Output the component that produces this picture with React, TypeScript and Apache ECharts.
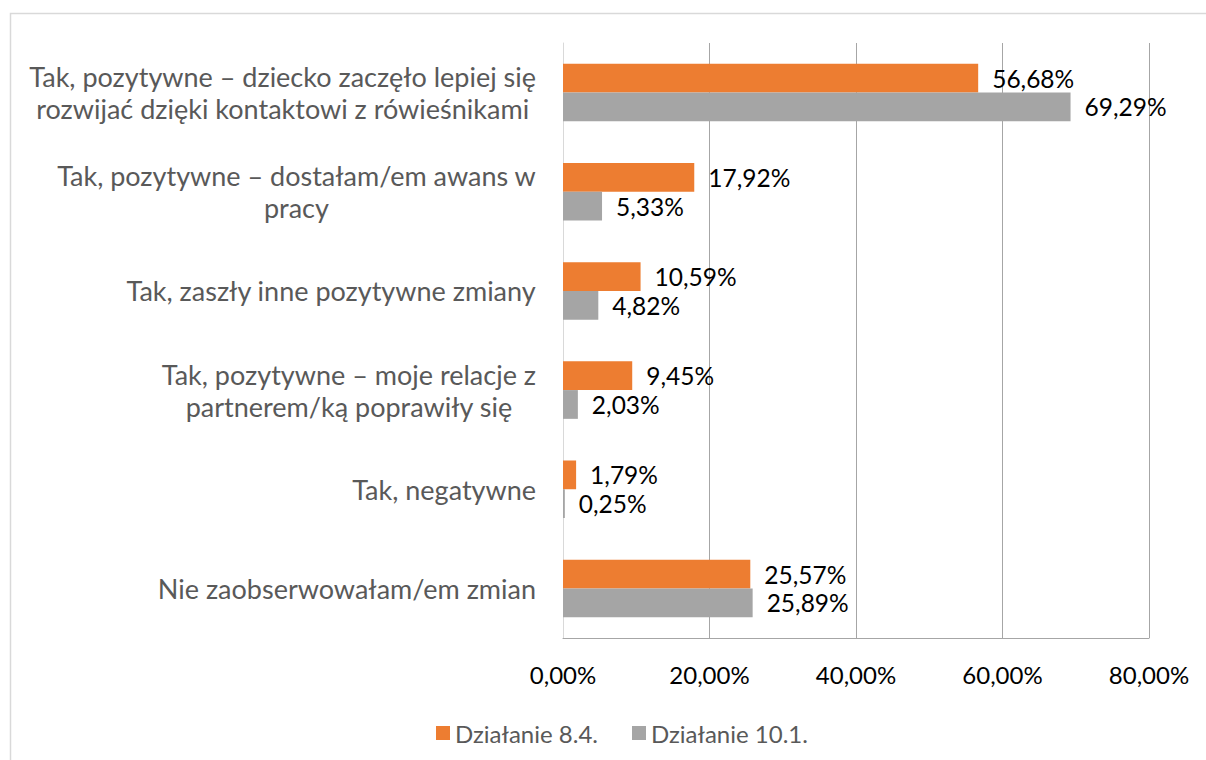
import React, { useEffect, useRef } from "react";
import * as echarts from "echarts";

const categories = [
  "Tak, pozytywne – dziecko zaczęło lepiej się\nrozwijać dzięki kontaktowi z rówieśnikami",
  "Tak, pozytywne – dostałam/em awans w\npracy",
  "Tak, zaszły inne pozytywne zmiany",
  "Tak, pozytywne – moje relacje z\npartnerem/ką poprawiły się",
  "Tak, negatywne",
  "Nie zaobserwowałam/em zmian",
];
const seriesNames = ["Działanie 8.4.", "Działanie 10.1."];
const values84 = [56.68, 17.92, 10.59, 9.45, 1.79, 25.57];
const values101 = [69.29, 5.33, 4.82, 2.03, 0.25, 25.89];
const xTicks = { min: 0, max: 80, interval: 20 };

const FONT = "Lato, 'Open Sans', sans-serif";
const fmt = (v: number) => v.toFixed(2).replace(".", ",") + "%";

export default function App() {
  const ref = useRef<HTMLDivElement>(null);
  useEffect(() => {
    if (!ref.current) return;
    const chart = echarts.init(ref.current, null, { renderer: "svg" });
    chart.setOption({
      animation: false,
      backgroundColor: "#ffffff",
      textStyle: { fontFamily: FONT },
      graphic: [
        {
          type: "rect",
          shape: { x: 10.5, y: 13.5, width: 1220, height: 780 },
          style: { fill: "none", stroke: "#d9d9d9", lineWidth: 1.5 },
          silent: true,
          z: -10,
        },
      ],
      grid: {
        left: 563,
        right: 57,
        top: 43,
        bottom: 122,
        containLabel: false,
        outerBoundsMode: "none",
      },
      legend: {
        data: seriesNames,
        left: 431,
        top: 716,
        icon: "rect",
        itemWidth: 14,
        itemHeight: 14,
        itemGap: 34,
        textStyle: { color: "#595959", fontSize: 24, fontFamily: FONT },
      },
      xAxis: {
        type: "value",
        min: xTicks.min,
        max: xTicks.max,
        interval: xTicks.interval,
        axisLine: { show: true, lineStyle: { color: "#a6a6a6", width: 1 } },
        axisTick: { show: false },
        splitLine: { show: true, lineStyle: { color: "#a6a6a6", width: 1 } },
        axisLabel: {
          color: "#000000",
          fontSize: 24,
          fontFamily: FONT,
          margin: 24,
          formatter: (v: number) => fmt(v),
        },
      },
      yAxis: {
        type: "category",
        inverse: true,
        data: categories,
        axisLine: { show: true, lineStyle: { color: "#d9d9d9", width: 1 } },
        axisTick: { show: false },
        axisLabel: {
          margin: 27,
          align: "right",
          color: "#595959",
          fontSize: 27,
          lineHeight: 32,
          fontFamily: FONT,
          formatter: (v: string) =>
            v
              .split("\n")
              .map((l) => `{c|${l}}`)
              .join("\n"),
          rich: {
            c: {
              align: "center",
              color: "#595959",
              fontSize: 27,
              lineHeight: 32,
              fontFamily: FONT,
            },
          },
        },
      },
      series: [
        {
          name: seriesNames[0],
          type: "bar",
          data: values84,
          barGap: "0%",
          barCategoryGap: "42%",
          itemStyle: { color: "#ED7D31" },
          label: {
            show: true,
            position: "right",
            distance: 14,
            color: "#000000",
            fontSize: 24.5,
            fontFamily: FONT,
            formatter: (p: any) => fmt(p.value),
          },
        },
        {
          name: seriesNames[1],
          type: "bar",
          data: values101,
          barGap: "0%",
          barCategoryGap: "42%",
          itemStyle: { color: "#A5A5A5" },
          label: {
            show: true,
            position: "right",
            distance: 14,
            color: "#000000",
            fontSize: 24.5,
            fontFamily: FONT,
            formatter: (p: any) => fmt(p.value),
          },
        },
      ],
    });
    return () => chart.dispose();
  }, []);
  return (
    <div
      ref={ref}
      style={{ position: "absolute", left: 0, top: 0, width: 1206, height: 760 }}
    />
  );
}
